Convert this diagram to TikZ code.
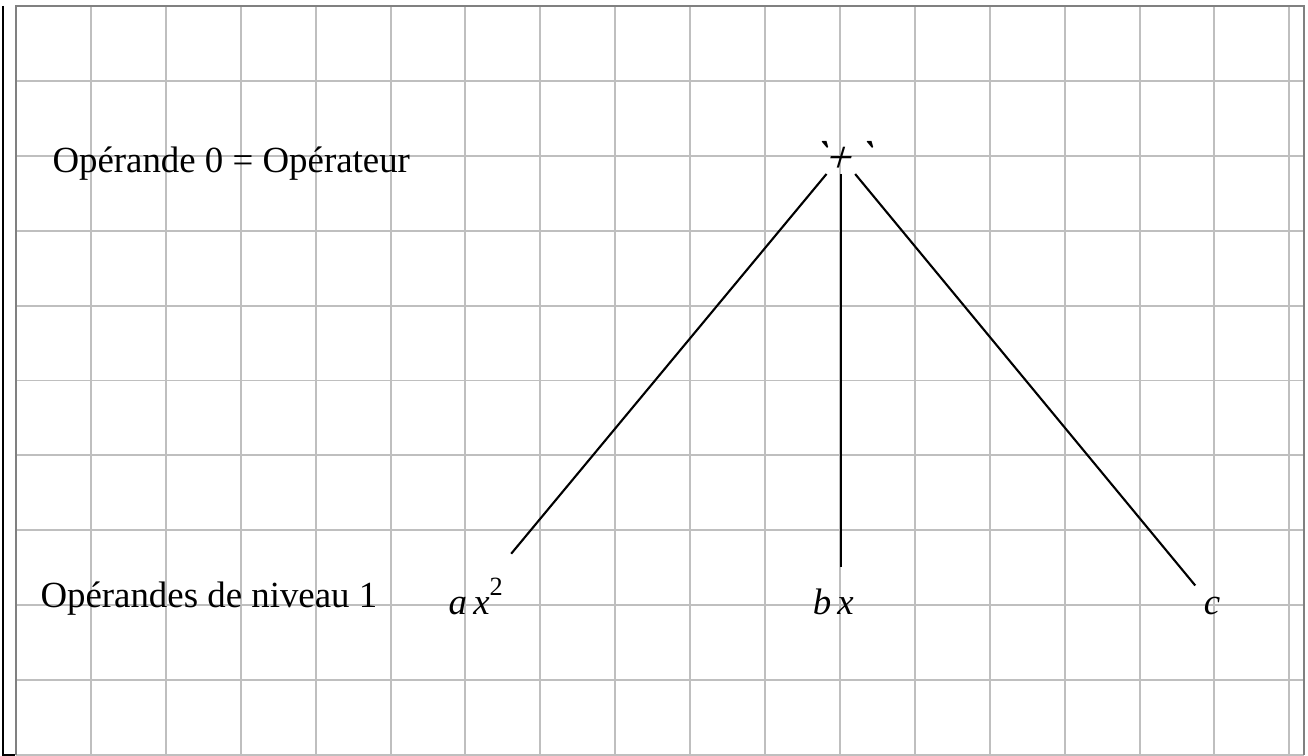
\documentclass[tikz,border=0pt]{standalone}
\usepackage{fontspec}
\setmainfont{Liberation Serif}
\newfontfamily\rawserif{Liberation Serif}
\usetikzlibrary{positioning}

\tikzset{
    gridline/.style={draw=black!25, line width=0.75pt},
    frameline/.style={draw=black!50, line width=0.75pt},
    edge/.style={draw=black, line width=0.8pt},
    lbl/.style={anchor=base west, inner sep=0pt, font=\fontsize{14}{16}\selectfont},
    term/.style={anchor=base west, inner sep=0pt, font=\fontsize{14}{16}\selectfont\itshape},
}

\begin{document}
\begin{tikzpicture}
    \useasboundingbox (-0.214,-0.013) rectangle (17.249,10.080);

    % Draw paper
    \draw[gridline] (0,0) grid (17.2,10);
    \draw[frameline] (0,0) -- (0,10) -- (17.2,10) -- (17.2,0);
    \draw[black, line width=0.75pt] (-0.174,10) -- (-0.174,0) -- (-0.013,0);

    % Draw nodes
    \node[term, anchor=base, xslant=0.3, font=\fontsize{17}{19}\rawserif\itshape] (plus) at (10.95,7.78) {`+`};
    \node[lbl] (lvl0) at (0.48,7.78) {Opérande 0 = Opérateur};
    \node[lbl] (lvl1) at (0.32,1.97) {Opérandes de niveau 1};
    \node[term] (ax) at (5.77,1.88) {a\,x\raisebox{1.1ex}{\fontsize{10}{10}\selectfont\upshape 2}};
    \node[term] (bx) at (10.63,1.88) {b\,x};
    \node[term] (c) at (15.85,1.88) {c};

    % Draw connections
    \draw[edge, shorten <=0.30cm, shorten >=0.74cm] (plus.center) -- (ax.center);
    \draw[edge, shorten <=0.23cm, shorten >=0.46cm] (plus.center) -- (plus.center |- bx.center);
    \draw[edge, shorten <=0.30cm, shorten >=0.35cm] (plus.center) -- (c.center);
\end{tikzpicture}
\end{document}
